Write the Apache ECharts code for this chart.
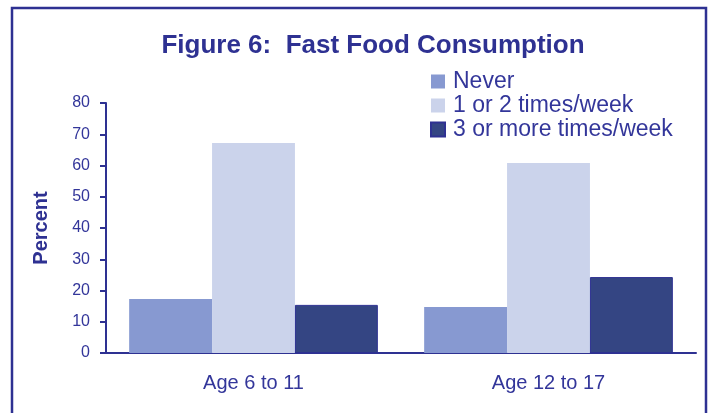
<!DOCTYPE html>
<html>
<head>
<meta charset="utf-8">
<script src="https://cdn.jsdelivr.net/npm/echarts@6/dist/echarts.min.js"></script>
<style>
  html, body { margin: 0; padding: 0; background: #fff; }
  #main { width: 710px; height: 413px; }
</style>
</head>
<body>
<div id="main"></div>
<script>
// data
var ageGroups = ['Age 6 to 11', 'Age 12 to 17'];
var seriesNames = ['Never', '1 or 2 times/week', '3 or more times/week'];
var never = [17.3, 14.7];
var oneOrTwo = [67.2, 60.8];
var threeOrMore = [15.4, 24.3];

var navy = '#2E3192';
var txt = '#33369A';
var barColors = ['#8799D1', '#CBD3EB', '#344583'];

var chart = echarts.init(document.getElementById('main'), null, { renderer: 'canvas' });

var option = {
  animation: false,
  backgroundColor: '#fff',
  textStyle: { fontFamily: 'Liberation Sans, Arial, sans-serif' },
  title: {
    text: 'Figure 6:  Fast Food Consumption',
    left: 368,
    textAlign: 'center',
    top: 28,
    textStyle: { color: navy, fontSize: 26, fontWeight: 'bold', fontFamily: 'Liberation Sans' }
  },
  legend: {
    orient: 'vertical',
    left: 425,
    top: 65,
    itemWidth: 14,
    itemHeight: 14,
    itemGap: 1,
    icon: 'rect',
    data: seriesNames,
    textStyle: { color: txt, fontSize: 23, padding: [0, 0, 0, 3] }
  },
  graphic: [{
    type: 'rect',
    shape: { x: 12, y: 8, width: 694, height: 420 },
    style: { fill: 'none', stroke: navy, lineWidth: 2.5 },
    silent: true
  }],
  grid: { left: 106, right: 14, top: 103, bottom: 60 },
  xAxis: {
    type: 'category',
    data: ageGroups,
    axisLine: { lineStyle: { color: navy, width: 2 } },
    axisTick: { length: 6, lineStyle: { color: navy, width: 2 } },
    axisLabel: { color: txt, fontSize: 20, margin: 20 }
  },
  yAxis: {
    type: 'value',
    min: 0,
    max: 80,
    interval: 10,
    name: 'Percent',
    nameLocation: 'middle',
    nameGap: 55,
    nameTextStyle: { color: navy, fontSize: 20, fontWeight: 'bold' },
    axisLine: { show: true, lineStyle: { color: navy, width: 2 } },
    axisTick: { show: true, length: 6, lineStyle: { color: navy, width: 2 } },
    axisLabel: { color: txt, fontSize: 16, margin: 16 },
    splitLine: { show: false }
  },
  series: [
    {
      name: seriesNames[0], type: 'bar', data: never,
      barGap: 0, barCategoryGap: '15.7%',
      itemStyle: { color: barColors[0] }
    },
    {
      name: seriesNames[1], type: 'bar', data: oneOrTwo,
      barGap: 0, barCategoryGap: '15.7%',
      itemStyle: { color: barColors[1] }
    },
    {
      name: seriesNames[2], type: 'bar', data: threeOrMore,
      barGap: 0, barCategoryGap: '15.7%',
      itemStyle: { color: barColors[2], borderColor: navy, borderWidth: 1 }
    }
  ]
};

chart.setOption(option);
</script>
</body>
</html>
